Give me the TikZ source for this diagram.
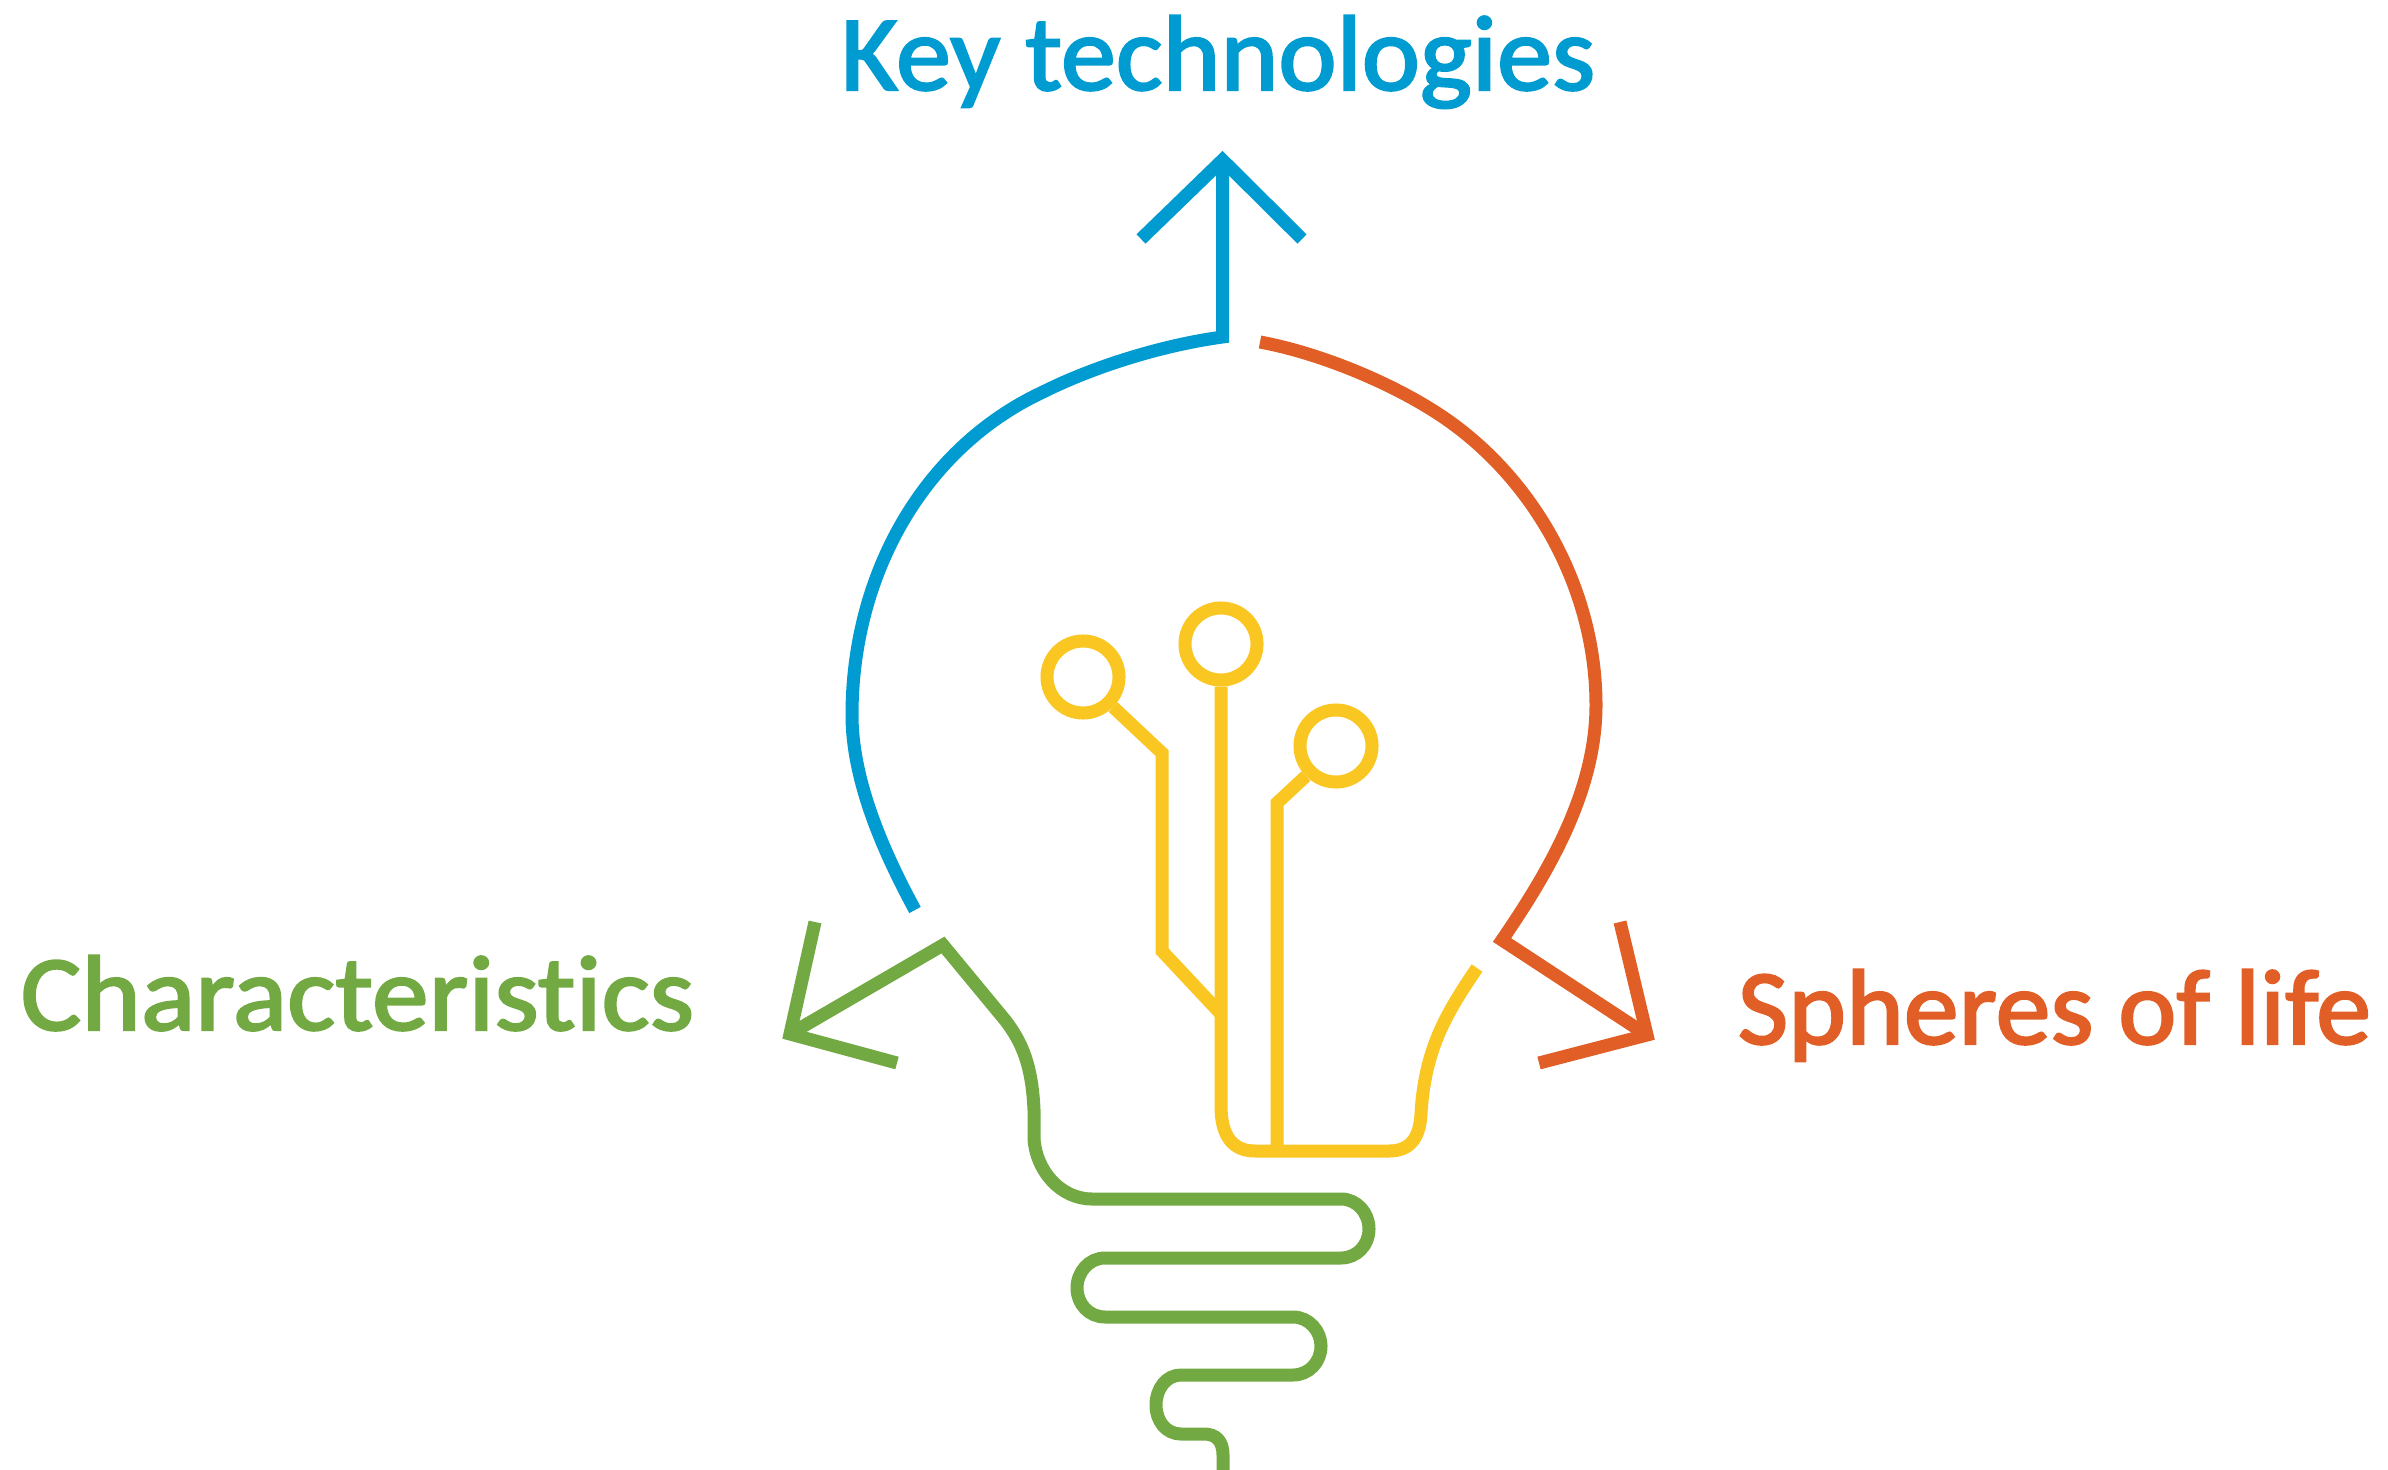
\documentclass[tikz,border=0pt]{standalone}
\usepackage{fontspec}
\usepackage{graphicx}
\setmainfont{Carlito}[Ligatures=NoCommon,FakeBold=2]
\definecolor{kblue}{HTML}{009BD0}
\definecolor{korange}{HTML}{E15F26}
\definecolor{kgreen}{HTML}{72A943}
\definecolor{kyellow}{HTML}{F9C622}
\tikzset{
  wire/.style={line width=0.13cm,line join=miter,miter limit=10,line cap=butt},
  bulbtip/.style={circle,draw=kyellow,line width=0.13cm,fill=none,minimum size=0.72cm,inner sep=0pt},
  lab/.style={anchor=base west,inner sep=0pt,font=\fontsize{30.5}{36}\selectfont},
}
\begin{document}
\begin{tikzpicture}[x=0.01cm,y=-0.01cm]
\useasboundingbox (0,0) rectangle (2388,1470);
% labels
\node[lab,text=kblue] (keytech) at (840,90) {\resizebox{7.54cm}{\height}{Key technologies}};
\node[lab,text=kgreen] (charac) at (20,1030) {\resizebox{6.73cm}{\height}{Characteristics}};
\node[lab,text=korange] (spheres) at (1737,1044) {\resizebox{6.33cm}{\height}{Spheres of life}};
% blue
\coordinate (btip) at (1222.5,160);
\draw[wire,kblue] (915,910) .. controls (888,860) and (852,785) .. (852,715)
  .. controls (852,575) and (923,448) .. (1043,392)
  .. controls (1095,366) and (1163.5,345) .. (1222.5,337) -- (btip);
\draw[wire,kblue] (1141,239) -- (btip) -- (1302,239);
% orange
\coordinate (otip) at (1647,1035);
\coordinate (overt) at (1502,940);
\draw[wire,korange] (1260,342) .. controls (1319,353) and (1390,382) .. (1440,415)
  .. controls (1535,478) and (1596,590) .. (1596,705)
  .. controls (1596,790) and (1550,870) .. (overt) -- (otip);
\draw[wire,korange] (1620,922) -- (otip) -- (1539,1063);
% green
\coordinate (gtip) at (790,1034);
\coordinate (gvert) at (943,945);
\draw[wire,kgreen] (815,922) -- (gtip) -- (897,1063);
\draw[wire,kgreen] (gtip) -- (gvert) -- (1005,1020)
  .. controls (1022,1042) and (1032,1065) .. (1034,1110)
  -- (1034,1139)
  .. controls (1036,1170) and (1060,1199) .. (1092,1199)
  -- (1341,1199)
  .. controls (1357,1199) and (1369,1213) .. (1369,1229)
  .. controls (1369,1245) and (1357,1258) .. (1341,1258)
  -- (1105,1258)
  .. controls (1089,1258) and (1077,1272) .. (1077,1288)
  .. controls (1077,1304) and (1089,1317) .. (1105,1317)
  -- (1293,1317)
  .. controls (1309,1317) and (1321,1331) .. (1321,1346)
  .. controls (1321,1362) and (1309,1375) .. (1293,1375)
  -- (1181,1375)
  .. controls (1166,1375) and (1156,1389) .. (1156,1405)
  .. controls (1156,1421) and (1166,1434) .. (1181,1434)
  -- (1204,1434)
  .. controls (1216,1434) and (1223,1441) .. (1223,1455)
  -- (1223,1470);
% yellow
\node[bulbtip] (c1) at (1083,677) {};
\node[bulbtip] (c2) at (1221,644) {};
\node[bulbtip] (c3) at (1336,746) {};
\draw[wire,kyellow] (c1.-45) -- (1162,753) -- (1162,951) -- (1221,1014);
\draw[wire,kyellow] (1477,968) .. controls (1445,1015) and (1425,1050) .. (1421,1113)
  .. controls (1420,1138) and (1410,1151) .. (1389,1151)
  -- (1255,1151)
  .. controls (1232,1151) and (1221,1135) .. (1221,1106)
  -- (c2.south);
\draw[wire,kyellow] (c3.225) -- (1277,803) -- (1277,1151);
\end{tikzpicture}
\end{document}
